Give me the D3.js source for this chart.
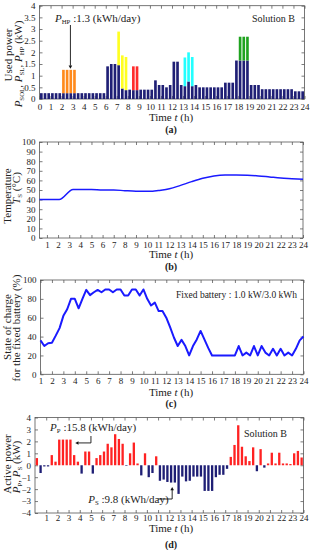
<!DOCTYPE html>
<html>
<head>
<meta charset="utf-8">
<script src="https://cdn.jsdelivr.net/npm/d3@7"></script>
<style>
body { margin: 0; background: #fff; }
svg text { font-family: "Liberation Serif", "Times New Roman", serif; fill: #222; }
</style>
</head>
<body>
<svg id="chart" width="311" height="550"></svg>
<script>
// ---- data (20 min slots, 72 per day) ----
// (a) base used power P_SOL + P_SL, kW
const baseLoad = [
  0.25,0.25,0.25, 0.25,0.25,0.25, 0.25,0.25,0.25, 0.25,0.25,0.25, 0.25,0.25,0.25, 0.25,0.25,0.25,
  1.4,1.5,1.5, 1.45,0.45,0.38, 0.4,0.38,0.38, 0.4,0.4,0.4, 0.4,0.8,0.6, 0.6,0.5,0.6,
  1.6,1.6,0.6, 0.55,0.75,0.55, 0.6,0.5,0.5, 0.5,0.5,0.5, 0.5,0.5,0.7, 0.7,0.7,1.65,
  1.65,1.65,1.65, 0.6,0.6,0.6, 0.42,0.42,0.42, 0.42,0.42,0.42, 0.42,0.42,0.42, 0.33,0.33,0.33
];
// shifted loads stacked on top (heat pump first)
const shiftSlots = [[6,7,8,9], [21,22,23], [25,26], [39,40,41], [54,55,56]];
const shiftKw = [[1.0,1.0,1.0,1.0], [1.44,1.42,1.42], [1.02,1.02], [1.23,1.25,1.25], [1.02,1.02,1.02]];
const shiftColors = ["#ff8a1c", "#ffff22", "#ff2b2b", "#22ffff", "#1fa31f"];

// (b) hot water tank temperature
const tempHour = [0.33, 2.1, 3.35, 5, 6, 7, 8, 9, 10.5, 11, 12, 13, 14, 15, 16, 17, 18, 19, 20, 21, 22, 23, 24];
const tempValue = [40, 40, 50.5, 50.5, 50, 50, 49.3, 48.8, 48.8, 49.5, 51.2, 54.8, 58.7, 62.2, 64.7, 65.7, 65.7, 65.4, 64.7, 63.6, 62.5, 61.8, 61.1];

// (c) SOC of fixed battery, from t=1 h every 20 min
const socValue = [
  36,30,33, 33.5,41,49, 62,69,80, 80,70,80, 89.5,84,87, 89.5,87,90, 90,87,90, 90,83.5,83.5,
  90,90,83.5, 90,80,73, 76,67,67, 60,50,39, 30,36.5,30, 20,30,37, 46,37,28, 20,20,20,
  20,20,20, 20,30,20, 23,20,30, 20,30,23, 20,27,20, 27,20,23, 20,27,36, 40
];

// (d) active power P_P (+) / P_S (-), kW
const activePower = [
  0.6,-0.65,-0.1, -0.1,0.85,0.3, 2.15,2.15,2.15, 2.15,0.85,0.3, -0.7,1.15,1.15, -0.7,0.6,0.85,
  1.15,1.8,1.5, 2.6,2.2,1.8, -0.05,1.0,1.9, 0.15,-0.85,1.0, -1.0,-0.65,0.75,
  -1.3,-1.2,-1.4, -1.45,-1.45,-2.4, -0.95,-1.35,-1.3, -0.95,-0.95,-0.95, -2.15,-2.15,-2.15, -1.0,-0.8,-0.8, -0.3,
  0.7,1.7,3.35, 1.55,0.75,0.35, 1.5,-0.5,1.35, -0.2,0.15,1.05, 0.15,1.05,0.15, 0.15,0.1,1.0, 1.2,0.65
];

const hourTicksA = d3.range(0, 25);
const hourTicks = d3.range(1, 25);

const svg = d3.select("#chart");
const navy = "#1f1f75";
const blue = "#1a1aff";

// frame with inward ticks on all four sides
function frame(x, y, xTicks, yTicks, yFmt, padX) {
  const g = svg.append("g");
  const [x0, x1] = x.range();
  const [y0, y1] = y.range();
  g.append("g").attr("transform", `translate(0,${y0})`)
    .call(d3.axisBottom(x).tickValues(xTicks).tickSizeInner(-3).tickSizeOuter(0).tickPadding(padX));
  g.append("g").attr("transform", `translate(0,${y1})`)
    .call(d3.axisTop(x).tickValues(xTicks).tickSizeInner(-3).tickSizeOuter(0).tickFormat(""));
  g.append("g").attr("transform", `translate(${x0},0)`)
    .call(d3.axisLeft(y).tickValues(yTicks).tickSizeInner(-3).tickSizeOuter(0).tickPadding(4).tickFormat(yFmt));
  g.append("g").attr("transform", `translate(${x1},0)`)
    .call(d3.axisRight(y).tickValues(yTicks).tickSizeInner(-3).tickSizeOuter(0).tickFormat(""));
  g.selectAll(".domain").remove();
  g.selectAll(".tick line").attr("stroke", "#444").attr("stroke-width", 0.7);
  g.selectAll("g").attr("font-family", null).attr("font-size", null);
  g.selectAll(".tick text").style("font-size", "9px").attr("fill", "#222");
  g.append("rect")
    .attr("x", x0).attr("y", y1).attr("width", x1 - x0).attr("height", y0 - y1)
    .attr("fill", "none").attr("stroke", "#555").attr("stroke-width", 0.8);
  return g;
}

function xTitle(cx, cy) {
  const t = svg.append("text").attr("x", cx).attr("y", cy).attr("text-anchor", "middle")
    .attr("dy", "0.35em").style("font-size", "11px");
  t.append("tspan").text("Time  ");
  t.append("tspan").style("font-style", "italic").text("t");
  t.append("tspan").text(" (h)");
}

function caption(cx, cy, s) {
  svg.append("text").attr("x", cx).attr("y", cy).attr("text-anchor", "middle")
    .attr("dy", "0.35em").style("font-size", "10px").style("font-weight", "bold").text(s);
}

// rotated y title; parts = [[text, italic, sub]]
function yTitle(cx, cy, parts) {
  const t = svg.append("text").attr("x", cx).attr("y", cy).attr("text-anchor", "middle")
    .attr("dy", "0.35em").attr("transform", `rotate(-90,${cx},${cy})`).style("font-size", "11px");
  parts.forEach(p => addPart(t, p));
}

function addPart(t, p) {
  const s = t.append("tspan").text(p[0]);
  if (p[1]) s.style("font-style", "italic");
  if (p[2]) {
    t.append("tspan").attr("baseline-shift", "-22%").style("font-size", "0.62em").text(p[2]);
  }
}

function arrowHead(x, y, dir) {
  const s = 3.2, w = 1.8;
  let pts;
  if (dir === "down") pts = [[x, y], [x - w, y - s], [x + w, y - s]];
  if (dir === "up") pts = [[x, y], [x - w, y + s], [x + w, y + s]];
  if (dir === "left") pts = [[x, y], [x + s, y - w], [x + s, y + w]];
  svg.append("path").attr("d", d3.line()(pts) + "Z").attr("fill", "#111");
}

// ---------- (a) ----------
const xa = d3.scaleLinear().domain([0, 24]).range([39.5, 304.5]);
const ya = d3.scaleLinear().domain([0, 4]).range([99, 5.7]);
const slotW = (xa(1) - xa(0)) / 3;
const barW = slotW * 0.72;

frame(xa, ya, hourTicksA, d3.range(0, 4.01, 0.5), d3.format("~g"), 5);

svg.append("g").selectAll("rect").data(baseLoad).join("rect")
  .attr("x", (d, i) => xa((i + 0.5) / 3) - barW / 2)
  .attr("width", barW)
  .attr("y", d => ya(d))
  .attr("height", d => ya(0) - ya(d))
  .attr("fill", navy);

shiftSlots.forEach((slots, k) => {
  svg.append("g").selectAll("rect").data(slots).join("rect")
    .attr("x", s => xa((s + 0.5) / 3) - barW / 2)
    .attr("width", barW)
    .attr("y", (s, j) => ya(baseLoad[s] + shiftKw[k][j]))
    .attr("height", (s, j) => ya(baseLoad[s]) - ya(baseLoad[s] + shiftKw[k][j]))
    .attr("fill", shiftColors[k]);
});

const hpText = svg.append("text").attr("x", xa(1.4)).attr("y", 21.5).style("font-size", "11px");
addPart(hpText, ["P", true, "HP"]);
hpText.append("tspan").text(" :1.3 (kWh/day)");
svg.append("line").attr("x1", xa(2.8)).attr("x2", xa(2.8)).attr("y1", 25).attr("y2", ya(1.3) - 3)
  .attr("stroke", "#111").attr("stroke-width", 0.9);
arrowHead(xa(2.8), ya(1.3), "down");

svg.append("text").attr("x", 295).attr("y", 21.5).attr("text-anchor", "end")
  .style("font-size", "10px").text("Solution B");

xTitle(171, 117.5);
caption(171, 129, "(a)");
yTitle(8.5, 55, [["Used power"]]);
yTitle(18, 64, [["P", true, "SOL"], [", "], ["P", true, "SL"], [", "], ["P", true, "HP"], [" (kW)"]]);

// ---------- (b) ----------
const xb = d3.scaleLinear().domain([1 / 3, 24]).range([39.5, 303]);
const yb = d3.scaleLinear().domain([0, 100]).range([238, 142]);
frame(xb, yb, hourTicks, d3.range(0, 101, 10), d3.format("d"), 3.2);

svg.append("path").datum(tempHour.map((h, i) => [h, tempValue[i]]))
  .attr("d", d3.line().x(d => xb(d[0])).y(d => yb(d[1])).curve(d3.curveMonotoneX))
  .attr("fill", "none").attr("stroke", blue).attr("stroke-width", 1.5);

xTitle(171, 254.5);
caption(171, 266.5, "(b)");
yTitle(7.5, 196, [["Temperature"]]);
yTitle(16.5, 188, [["T", true, "S"], [" (°C)"]]);

// ---------- (c) ----------
const xc = d3.scaleLinear().domain([1, 24]).range([40.5, 303.5]);
const yc = d3.scaleLinear().domain([0, 100]).range([374.3, 280]);
frame(xc, yc, hourTicks, d3.range(0, 101, 20), d3.format("d"), 3.4);

svg.append("path").datum(socValue)
  .attr("d", d3.line().x((d, i) => xc(1 + i / 3)).y(d => yc(d)))
  .attr("fill", "none").attr("stroke", blue).attr("stroke-width", 2).attr("stroke-linejoin", "round");

svg.append("text").attr("x", 297).attr("y", 298).attr("text-anchor", "end")
  .style("font-size", "9.5px").text("Fixed battery : 1.0 kW/3.0 kWh");

xTitle(171, 392.3);
caption(171, 403.5, "(c)");
yTitle(7.5, 327, [["State of charge"]]);
yTitle(16, 328, [["for the fixed battery (%)"]]);

// ---------- (d) ----------
const xd = d3.scaleLinear().domain([0, 24]).range([35, 303.5]);
const yd = d3.scaleLinear().domain([-4, 4]).range([513, 417.5]);
frame(xd, yd, hourTicks, d3.range(-4, 4.01, 1), d3.format("d"), 1.6);

const barWd = (xd(1) - xd(0)) / 3 * 0.62;
svg.append("g").selectAll("rect").data(activePower).join("rect")
  .attr("x", (d, i) => xd((i + 0.5) / 3) - barWd / 2)
  .attr("width", barWd)
  .attr("y", d => yd(Math.max(0, d)))
  .attr("height", d => Math.abs(yd(d) - yd(0)))
  .attr("fill", d => d >= 0 ? "#ff2222" : navy);

const ppText = svg.append("text").attr("x", xd(1.35)).attr("y", 430.5).style("font-size", "11px");
addPart(ppText, ["P", true, "P"]);
ppText.append("tspan").text(" :15.8 (kWh/day)");
svg.append("path")
  .attr("d", d3.line()([[xd(5.0), 436], [xd(5.0), yd(1.87)], [xd(3.6) + 3, yd(1.87)]]))
  .attr("fill", "none").attr("stroke", "#111").attr("stroke-width", 0.9);
arrowHead(xd(3.6), yd(1.87), "left");

const psText = svg.append("text").attr("x", xd(4.75)).attr("y", 502.5).style("font-size", "11px");
addPart(psText, ["P", true, "S"]);
psText.append("tspan").text(" :9.8 (kWh/day)");
svg.append("path")
  .attr("d", d3.line()([[xd(11.0), 499], [xd(12.26), 499], [xd(12.26), yd(-1.82) + 3]]))
  .attr("fill", "none").attr("stroke", "#111").attr("stroke-width", 0.9);
arrowHead(xd(12.26), yd(-1.82), "up");

svg.append("text").attr("x", 287).attr("y", 436.5).attr("text-anchor", "end")
  .style("font-size", "10px").text("Solution B");

xTitle(171, 528.3);
caption(171, 544, "(d)");
yTitle(7.5, 464, [["Active power"]]);
yTitle(16.5, 467, [["P", true, "P"], [", "], ["P", true, "S"], [" (kW)"]]);
</script>
</body>
</html>
